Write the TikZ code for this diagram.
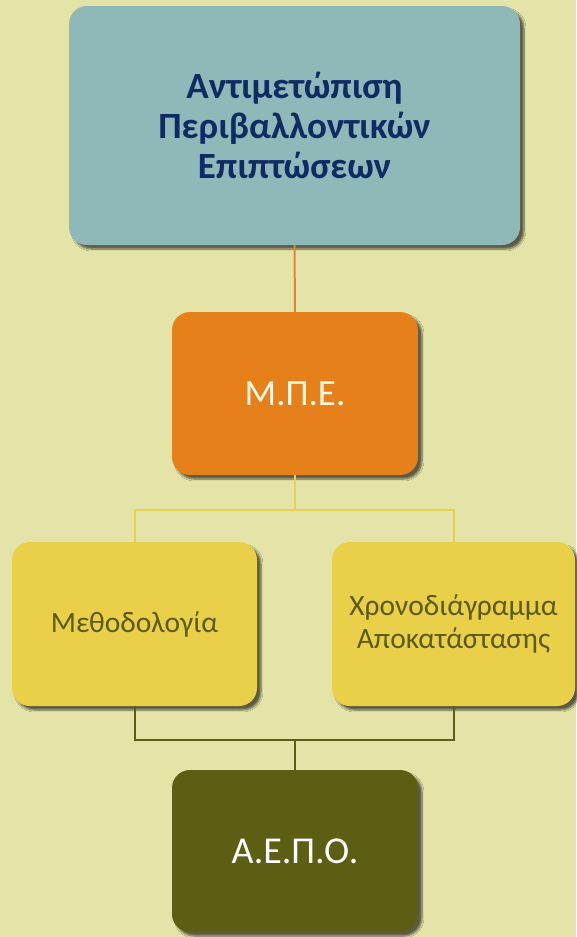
\documentclass[tikz,border=0pt]{standalone}
\usepackage{fontspec}
\setmainfont{Carlito}
\usetikzlibrary{shadows.blur}
\definecolor{bgc}{RGB}{228,228,168}
\definecolor{topc}{RGB}{143,184,184}
\definecolor{navyc}{RGB}{16,42,100}
\definecolor{orc}{RGB}{230,128,26}
\definecolor{creamc}{RGB}{255,248,228}
\definecolor{yelc}{RGB}{233,208,72}
\definecolor{yeltxt}{RGB}{92,90,22}
\definecolor{olc}{RGB}{92,94,20}
\definecolor{orline}{RGB}{226,132,50}
\definecolor{yline}{RGB}{232,208,80}
\tikzset{
  box/.style={rounded corners=18pt, inner sep=0pt, align=center,
    blur shadow={shadow xshift=4pt, shadow yshift=-4pt, shadow blur steps=6, shadow opacity=60, shadow blur extra rounding=2pt}},
  conn/.style={line width=2pt}
}
\begin{document}
\begin{tikzpicture}[x=1pt,y=-1pt]
\fill[bgc] (0,0) rectangle (576,937);
\useasboundingbox (0,0) rectangle (576,937);
\node[box, fill=topc, minimum width=451pt, minimum height=239pt, text=navyc, font=\fontsize{37}{40}\selectfont\bfseries] (top) at (294.5,125.5) {Αντιμετώπιση\\Περιβαλλοντικών\\Επιπτώσεων};
\node[box, fill=orc, minimum width=246pt, minimum height=163pt, text=creamc, font=\fontsize{37}{40}\selectfont] (mpe) at (295,393.5) {Μ.Π.Ε.};
\node[box, fill=yelc, minimum width=245pt, minimum height=164pt, text=yeltxt, font=\fontsize{29.5}{32}\selectfont] (left) at (134.5,624) {Μεθοδολογία};
\node[box, fill=yelc, minimum width=243pt, minimum height=164pt, text=yeltxt, font=\fontsize{29.5}{33}\selectfont] (right) at (453.5,624) {Χρονοδιάγραμμα\\Αποκατάστασης};
\node[box, fill=olc, minimum width=246pt, minimum height=162pt, text=white, font=\fontsize{38}{40}\selectfont] (aepo) at (295,851) {Α.Ε.Π.Ο.};
\coordinate (j1) at (295,510);
\coordinate (j2) at (295,740);
\draw[conn, orline] (top.south) -- (mpe.north);
\draw[conn, yline] (mpe.south) -- (j1) -| (left.north);
\draw[conn, yline] (j1) -| (right.north);
\draw[conn, olc] (left.south) |- (j2) -- (aepo.north);
\draw[conn, olc] (right.south) |- (j2);
\end{tikzpicture}
\end{document}
